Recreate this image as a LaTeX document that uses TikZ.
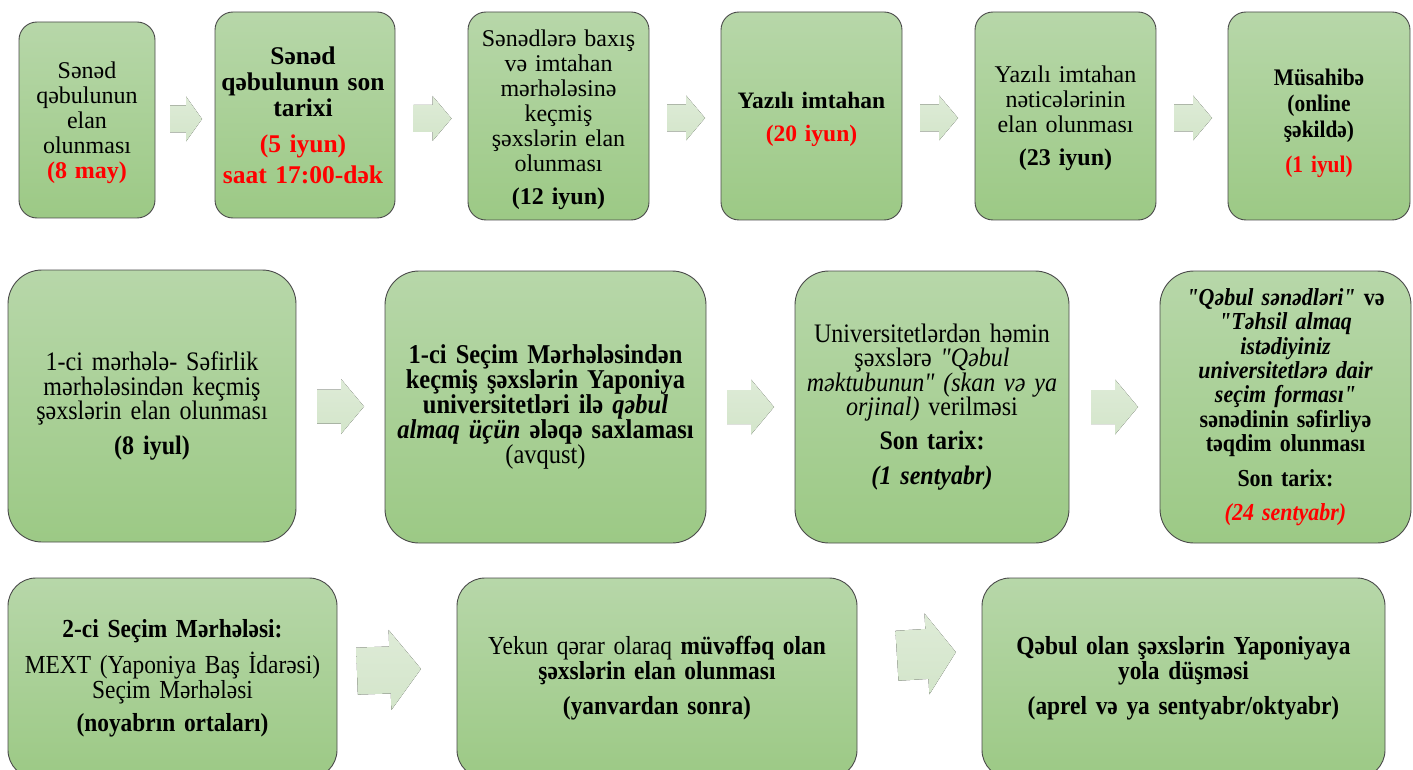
\documentclass[tikz,border=0pt]{standalone}
\usepackage{fontspec}
\setmainfont{Liberation Serif}
\newfontfamily\cond[FakeStretch=0.9]{Liberation Serif}
\usetikzlibrary{calc}
\definecolor{gtop}{HTML}{B7D7A9}
\definecolor{gbot}{HTML}{9CC985}
\definecolor{edgec}{HTML}{4A4A4A}
\definecolor{arrtop}{HTML}{DEEBD7}
\definecolor{arrbot}{HTML}{D3E5CA}
\definecolor{rd}{HTML}{FF0000}
\newcommand{\blkarrow}[5]{\fill[arrowfill] ($(#1)+({-(#2)/2},{-(#4)/2})$) -- ++({(#2)-(#5)},0) -- ++(0,{-((#3)-(#4))/2}) -- ++(#5,{(#3)/2}) -- ++({-(#5)},{(#3)/2}) -- ++(0,{-((#3)-(#4))/2}) -- ++({-((#2)-(#5))},0) -- cycle;}
\newcommand{\rdb}[1]{\textcolor{rd}{\textbf{#1}}}
\newcommand{\fs}[2]{\fontsize{#1}{#2}\selectfont}
\newcommand{\qq}{\char"22\relax}
\begin{document}
\begin{tikzpicture}[x=1pt,y=-1pt,
 box/.style={draw=edgec, line width=0.9pt, top color=gtop, bottom color=gbot, align=center, inner sep=0pt, text=black},
 r1/.style={box, rounded corners=18pt},
 txt/.style={align=center, inner sep=0pt, text=black, font=\fs{24}{25}},
 r2/.style={box, rounded corners=34pt, font=\cond\fs{26.7}{24.4}},
 r3/.style={box, rounded corners=28pt, font=\cond\fs{26}{25}},
 arrowfill/.style={top color=arrtop, bottom color=arrbot, draw=none}]
\useasboundingbox (0,0) rectangle (1413,770);
\clip (0,0) rectangle (1413,770);
% row 1 boxes
\node[r1, minimum width=136pt, minimum height=196pt] (b1) at (87,120) {};
\node[r1, minimum width=180pt, minimum height=206pt] (b2) at (305,115) {};
\node[r1, minimum width=181pt, minimum height=208pt] (b3) at (558.5,116) {};
\node[r1, minimum width=181pt, minimum height=208pt] (b4) at (811.5,116) {};
\node[r1, minimum width=181pt, minimum height=208pt] (b5) at (1065.5,116) {};
\node[r1, minimum width=182pt, minimum height=208pt] (b6) at (1319,116) {};
% row 1 texts
\node[txt, text width=134pt] (t1) at ($(b1.center)+(0,3)$)
 {Sənəd\\qəbulunun\\elan\\olunması\\\rdb{(8 may)}};
\node[txt, text width=176pt, font=\fs{25.5}{26}] (t2) at ($(b2.center)+(-2,0)$)
 {\textbf{Sənəd\\qəbulunun son\\tarixi}\\[10pt]\rdb{(5 iyun)}\\[5pt]\rdb{saat 17:00-dək}};
\node[txt, text width=176pt] (t3) at ($(b3.center)+(0,4)$)
 {Sənədlərə baxış\\və imtahan\\mərhələsinə\\keçmiş\\şəxslərin elan\\olunması\\[8pt]\textbf{(12 iyun)}};
\node[txt, text width=176pt, font=\fs{23.5}{25}] (t4) at ($(b4.center)+(0,3)$)
 {\textbf{Yazılı imtahan}\\[8pt]\rdb{(20 iyun)}};
\node[txt, text width=176pt] (t5) at ($(b5.center)+(0,2.5)$)
 {Yazılı imtahan\\nəticələrinin\\elan olunması\\[8pt]\textbf{(23 iyun)}};
\node[txt, text width=176pt, font=\cond\fs{23.8}{26}] (t6) at ($(b6.center)+(0,7)$)
 {\textbf{Müsahibə\\(online\\şəkildə)}\\[9pt]\rdb{(1 iyul)}};
% row 2
\node[r2, minimum width=288pt, minimum height=272pt, text width=284pt] (b7) at (152,406)
 {1-ci mərhələ- Səfirlik\\mərhələsindən keçmiş\\şəxslərin elan olunması\\[10pt]\textbf{(8 iyul)}};
\node[r2, minimum width=321pt, minimum height=272pt, text width=317pt, font=\cond\fs{27.2}{24.8}] (b8) at (545.5,407)
 {\textbf{1-ci Seçim Mərhələsindən\\keçmiş şəxslərin Yaponiya\\universitetləri ilə \textit{qəbul}\\\textit{almaq üçün} ələqə saxlaması}\\(avqust)};
\node[r2, minimum width=274pt, minimum height=272pt, text width=270pt] (b9) at (932,407)
 {Universitetlərdən həmin\\şəxslərə \textit{\qq Qəbul}\\\textit{məktubunun\qq{} (skan və ya}\\\textit{orjinal)} verilməsi\\[10pt]\textbf{Son tarix:}\\[10pt]\textbf{\textit{(1 sentyabr)}}};
\node[r2, minimum width=251pt, minimum height=272pt, text width=247pt, font=\cond\fs{24.4}{24.4}] (b10) at (1285.5,407)
 {\textbf{\textit{\qq Qəbul sənədləri\qq} və\\\textit{\qq Təhsil almaq\\istədiyiniz\\universitetlərə dair\\seçim forması\qq}\\sənədinin səfirliyə\\təqdim olunması}\\[10pt]\textbf{Son tarix:}\\[10pt]\textcolor{rd}{\textbf{\textit{(24 sentyabr)}}}};
% row 3
\node[r3, minimum width=329pt, minimum height=200pt, text width=327pt] (b11) at (172.5,678)
 {\textbf{2-ci Seçim Mərhələsi:}\\[8pt]MEXT (Yaponiya Baş İdarəsi)\\Seçim Mərhələsi\\[8pt]\textbf{(noyabrın ortaları)}};
\node[r3, minimum width=400pt, minimum height=200pt, text width=395pt] (b12) at (657,678)
 {Yekun qərar olaraq \textbf{müvəffəq olan}\\\textbf{şəxslərin elan olunması}\\[10pt]\textbf{(yanvardan sonra)}};
\node[r3, minimum width=403pt, minimum height=200pt, text width=395pt] (b13) at (1183.5,678)
 {\textbf{Qəbul olan şəxslərin Yaponiyaya\\yola düşməsi\\[10pt](aprel və ya sentyabr/oktyabr)}};
% arrows
\coordinate (a1) at ($($(b1.east)!0.5!(b2.west)$)+(1,1.5)$);
\coordinate (a2) at ($($(b2.east)!0.5!(b3.west)$)+(1,3)$);
\coordinate (a3) at ($($(b3.east)!0.5!(b4.west)$)+(1,2)$);
\coordinate (a4) at ($($(b4.east)!0.5!(b5.west)$)+(0.5,2)$);
\coordinate (a5) at ($($(b5.east)!0.5!(b6.west)$)+(1,2)$);
\coordinate (a6) at ($(b7.east)!0.5!(b8.west)$);
\coordinate (a7) at ($(b8.east)!0.5!(b9.west)$);
\coordinate (a8) at ($(b9.east)!0.5!(b10.west)$);
\coordinate (a9) at ($($(b11.east)!0.5!(b12.west)$)+(-8,-8)$);
\coordinate (a10) at ($($(b12.east)!0.5!(b13.west)$)+(7,-24)$);
\blkarrow{a1}{32}{45}{27}{16}
\blkarrow{a2}{38}{45}{27}{19}
\blkarrow{a3}{38}{45}{27}{19}
\blkarrow{a4}{38}{45}{27}{19}
\blkarrow{a5}{38}{45}{27}{19}
\blkarrow{a6}{47}{55}{34}{23}
\blkarrow{a7}{47}{55}{34}{23}
\blkarrow{a8}{47}{55}{34}{23}
\begin{scope}[rotate around={2:(a9)}]
\blkarrow{a9}{64}{80}{47}{31}
\end{scope}
\begin{scope}[rotate around={3.5:(a10)}]
\blkarrow{a10}{59}{81}{50}{29}
\end{scope}
\end{tikzpicture}
\end{document}
